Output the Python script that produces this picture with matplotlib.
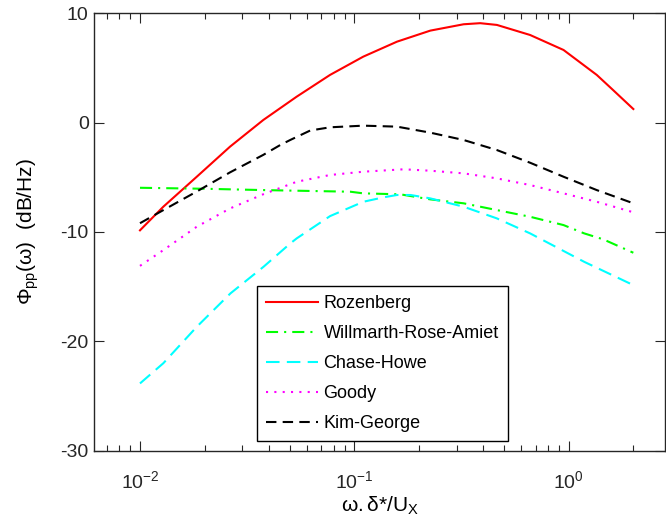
import numpy as np
from matplotlib import pyplot as plt

# values (x = omega.delta*/U, y in dB/Hz)
rozenberg_x = [0.01, 0.01285, 0.0184, 0.0263, 0.0376, 0.0538, 0.077, 0.110, 0.158, 0.226, 0.323, 0.386,
               0.462, 0.66, 0.945, 1.35, 1.61, 2.0]
rozenberg_y = [-9.85, -7.69, -4.95, -2.2, 0.24, 2.37, 4.36, 6.03, 7.40, 8.41, 8.99, 9.09,
               8.93, 8.01, 6.64, 4.36, 2.97, 1.24]

wra_x = [0.01, 0.02, 0.0376, 0.0958, 0.110, 0.164, 0.226, 0.323, 0.462, 0.66, 0.945, 1.18, 1.45, 2.0]
wra_y = [-5.96, -6.05, -6.17, -6.32, -6.47, -6.56, -7.02, -7.38, -8.0, -8.61, -9.37, -10.13, -10.68, -11.9]

chase_x = [0.01, 0.01285, 0.0184, 0.0264, 0.0377, 0.0503, 0.0538, 0.077, 0.110, 0.137, 0.158, 0.183,
           0.226, 0.323, 0.462, 0.66, 1.18, 2.0]
chase_y = [-23.85, -22.0, -18.67, -15.62, -13.18, -11.04, -10.59, -8.55, -7.24, -6.83, -6.62, -6.62,
           -6.93, -7.69, -8.76, -10.13, -12.73, -14.86]

goody_x = [0.01, 0.01285, 0.0184, 0.0263, 0.0376, 0.0538, 0.077, 0.110, 0.17, 0.226, 0.323,
           0.462, 0.66, 0.945, 1.35, 2.0]
goody_y = [-13.1, -11.66, -9.52, -7.85, -6.55, -5.41, -4.79, -4.49, -4.27, -4.40, -4.64,
           -5.10, -5.71, -6.47, -7.24, -8.2]

kim_x = [0.01, 0.01285, 0.0184, 0.0263, 0.0376, 0.0451, 0.0502, 0.0623, 0.077, 0.110, 0.158, 0.226,
         0.323, 0.462, 0.66, 0.945, 1.35, 2.0]
kim_y = [-9.2, -8.0, -6.3, -4.55, -2.95, -2.05, -1.59, -0.72, -0.43, -0.28, -0.37, -0.92,
         -1.59, -2.51, -3.67, -4.95, -6.17, -7.38]

labels = ['Rozenberg', 'Willmarth-Rose-Amiet', 'Chase-Howe', 'Goody', 'Kim-George']

plt.rcParams['font.family'] = ['Liberation Sans', 'DejaVu Sans']
plt.rcParams['mathtext.fontset'] = 'custom'
plt.rcParams['mathtext.rm'] = 'Liberation Sans'
plt.rcParams['mathtext.it'] = 'Liberation Sans'
plt.rcParams['mathtext.default'] = 'regular'
plt.rcParams['axes.unicode_minus'] = False

fig = plt.figure(figsize=(6.66, 5.29), dpi=100)
ax = fig.add_axes([0.1404, 0.148, 0.8586, 0.827])

lw = 1.5
ax.plot(rozenberg_x, rozenberg_y, color='#ff0000', lw=lw, label=labels[0])
ax.plot(wra_x, wra_y, color='#00ff00', lw=lw, dashes=(5.8, 2.9, 1.0, 2.9), label=labels[1])
ax.plot(chase_x, chase_y, color='#00ffff', lw=lw, dashes=(6.5, 3.5), label=labels[2])
ax.plot(goody_x, goody_y, color='#ff00ff', lw=lw, dashes=(1.0, 3.0), label=labels[3])
ax.plot(kim_x, kim_y, color='black', lw=lw, dashes=(5.0, 3.0), label=labels[4])

ax.set_xscale('log')
ax.set_xlim(0.00607, 2.82)
ax.set_ylim(-30, 10)
ax.set_yticks([-30, -20, -10, 0, 10])

ax.tick_params(which='both', direction='in', top=True, right=True, labelsize=14, colors='#262626')
ax.tick_params(which='major', length=7, width=0.8)
ax.tick_params(which='minor', length=4, width=0.8)
ax.tick_params(axis='x', which='major', pad=14)
for s in ax.spines.values():
    s.set_color('#262626')
    s.set_linewidth(1.0)

ax.set_xlabel(r'$\omega.\delta$*/U$_X$', fontsize=15, labelpad=2)
ax.set_ylabel(r'$\Phi_{pp}(\omega)$  (dB/Hz)', fontsize=15, labelpad=14)

leg = ax.legend(loc='upper left', bbox_to_anchor=(256.7 / 666, 1 - 286 / 529),
                bbox_transform=fig.transFigure, borderaxespad=0, fontsize=13,
                fancybox=False, framealpha=1, edgecolor='black', handlelength=2.9,
                handletextpad=0.3, labelspacing=0.72, borderpad=0.5)
leg.get_frame().set_linewidth(1.0)

fig.savefig('out.png', dpi=100)
